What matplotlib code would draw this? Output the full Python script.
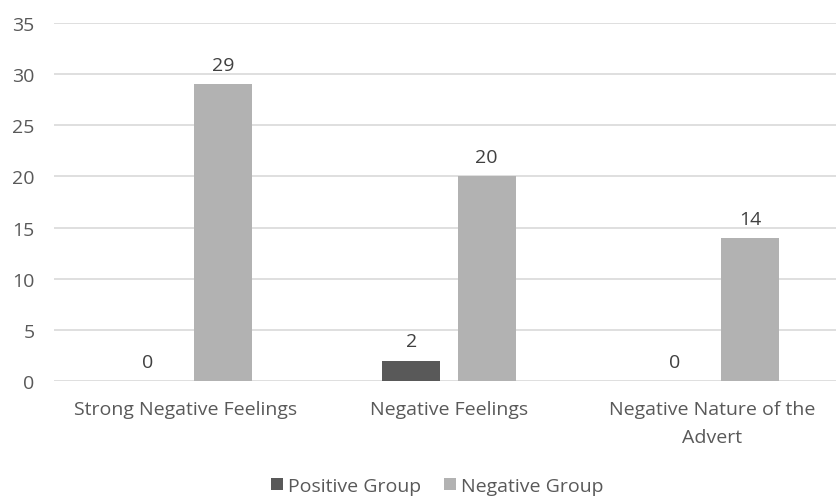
import matplotlib
matplotlib.use("Agg")
import matplotlib.pyplot as plt
import numpy as np

categories = ["Strong Negative Feelings", "Negative Feelings", "Negative Nature of the\nAdvert"]
positive_group = [0, 2, 0]
negative_group = [29, 20, 14]
series_names = ["Positive Group", "Negative Group"]
yticks = [0, 5, 10, 15, 20, 25, 30, 35]

plt.rcParams['font.family'] = ['Open Sans', 'DejaVu Sans']
text_color = "#595959"
fs = 14

fig = plt.figure(figsize=(8.36, 5.02), dpi=100)
ax = fig.add_axes([54 / 836, 1 - 382 / 502, 790 / 836, (382 - 24) / 502])

x = np.arange(len(categories))
w = 0.22
off = 0.143
b1 = ax.bar(x - off, positive_group, w, color="#595959", label=series_names[0], zorder=3)
b2 = ax.bar(x + off, negative_group, w, color="#b2b2b2", label=series_names[1], zorder=3)

for bars in (b1, b2):
    for r in bars:
        h = r.get_height()
        ax.text(r.get_x() + r.get_width() / 2, h + 1.0, f"{h:g}", ha="center", va="bottom",
                fontsize=fs, color="#404040")

ax.set_ylim(0, 35)
ax.set_xlim(-0.5, 2.5)
ax.set_yticks(yticks)
ax.set_xticks(x)
ax.set_xticklabels(categories, fontsize=fs, color=text_color, linespacing=1.65)
ax.tick_params(axis="y", labelsize=fs, labelcolor=text_color, length=0, pad=14)
ax.tick_params(axis="x", length=0, pad=14)
ax.grid(axis="y", color="#d9d9d9", linewidth=1.2, zorder=0)
for s in ax.spines.values():
    s.set_visible(False)

fig.legend(handles=[b1, b2], labels=series_names, loc="center", bbox_to_anchor=(437 / 836, 1 - 487 / 502),
           ncol=2, frameon=False, fontsize=fs, handlelength=0.6, handleheight=0.6,
           handletextpad=0.25, columnspacing=1.2, labelcolor=text_color)

fig.savefig("out.png", dpi=100)
